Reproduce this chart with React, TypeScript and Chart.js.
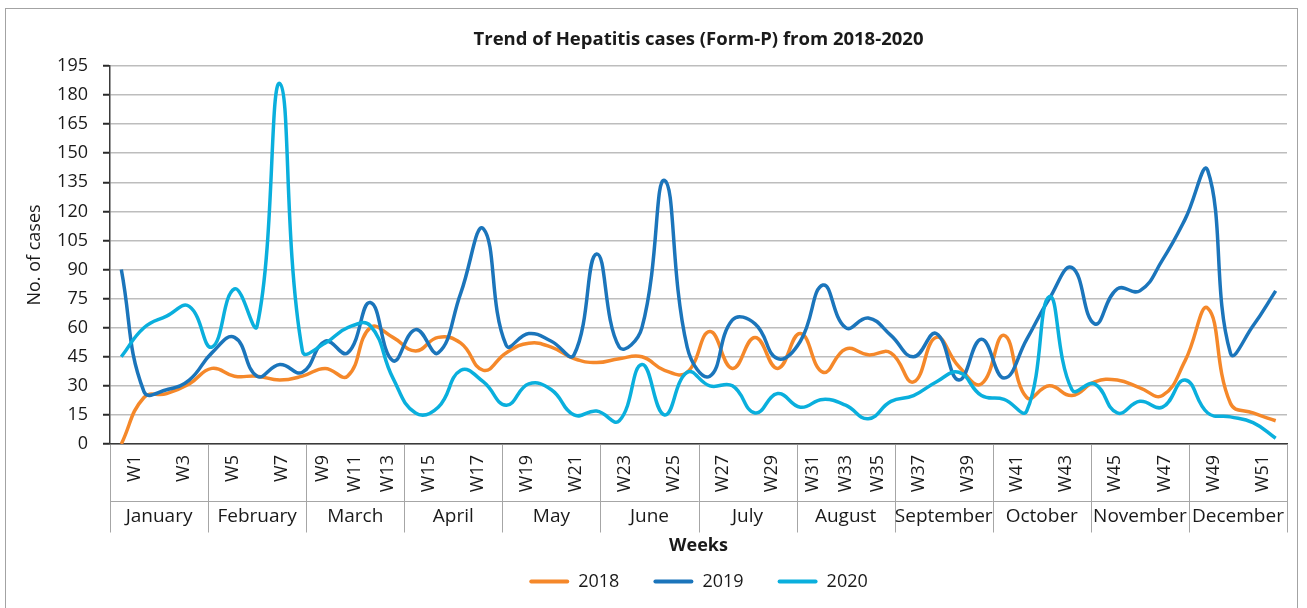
import React, { useEffect, useRef } from "react";
import { Chart, registerables } from "chart.js";

Chart.register(...registerables);

const weeks = [
  "W1", "W2", "W3", "W4", "W5", "W6", "W7", "W8", "W9", "W10", "W11", "W12", "W13",
  "W14", "W15", "W16", "W17", "W18", "W19", "W20", "W21", "W22", "W23", "W24", "W25", "W26",
  "W27", "W28", "W29", "W30", "W31", "W32", "W33", "W34", "W35", "W36", "W37", "W38", "W39",
  "W40", "W41", "W42", "W43", "W44", "W45", "W46", "W47", "W48", "W49", "W50", "W51", "W52",
];

const months = [
  "January", "February", "March", "April", "May", "June",
  "July", "August", "September", "October", "November", "December",
];

const monthWeekLabels = [
  ["W1", "W3"], ["W5", "W7"], ["W9", "W11", "W13"], ["W15", "W17"],
  ["W19", "W21"], ["W23", "W25"], ["W27", "W29"], ["W31", "W33", "W35"],
  ["W37", "W39"], ["W41", "W43"], ["W45", "W47"], ["W49", "W51"],
];

const cases2018 = [
  0, 24, 26, 31, 39, 35, 35, 33, 35, 39, 35, 60, 55,
  48, 55, 52, 38, 47, 52, 50, 44, 42, 44, 45, 38, 37,
  58, 39, 55, 39, 57, 37, 49, 46, 47, 32, 55, 40, 31,
  56, 24, 30, 25, 32, 33, 29, 25, 43, 70, 21, 16, 12,
];

const cases2019 = [
  90, 27, 28, 33, 47, 55, 35, 41, 37, 53, 47, 73, 43,
  59, 47, 78, 111, 51, 57, 53, 46, 98, 50, 60, 136, 50,
  35, 64, 62, 44, 53, 82, 60, 65, 56, 45, 57, 33, 54,
  34, 54, 75, 91, 62, 80, 79, 95, 116, 141, 47, 61, 79,
];

const cases2020 = [
  45, 60, 66, 71, 50, 80, 61, 186, 48, 52, 60, 61, 34,
  16, 19, 38, 32, 20, 31, 28, 15, 17, 12, 41, 15, 37,
  30, 30, 16, 26, 19, 23, 20, 13, 22, 25, 32, 37, 25,
  23, 17, 76, 28, 31, 16, 22, 19, 33, 16, 14, 11, 3,
];

const yTickValues = [0, 15, 30, 45, 60, 75, 90, 105, 120, 135, 150, 165, 180, 195];

const seriesNames = ["2018", "2019", "2020"];
const seriesColors = ["#F5882A", "#1B75BB", "#0AAFDD"];

const chartTitle = "Trend of Hepatitis cases (Form-P) from 2018-2020";
const yTitle = "No. of cases";
const xTitle = "Weeks";

const FONT = '"Open Sans", "Noto Sans", sans-serif';
const TEXT = "#1a1a1a";

const decorPlugin = {
  id: "decor",
  afterDraw(chart: any) {
    const ctx: CanvasRenderingContext2D = chart.ctx;
    const a = chart.chartArea;
    const W = chart.width;
    const H = chart.height;
    ctx.save();

    // outer frame
    ctx.strokeStyle = "#A3A3A3";
    ctx.lineWidth = 1;
    ctx.strokeRect(5.5, 8.5, W - 15, H + 10);

    // title
    const cx = (a.left + a.right) / 2;
    ctx.fillStyle = TEXT;
    ctx.font = `bold 18.5px ${FONT}`;
    ctx.textAlign = "center";
    ctx.textBaseline = "middle";
    ctx.fillText(chartTitle, cx, a.top - 26);

    // y title
    ctx.save();
    ctx.translate(35, (a.top + a.bottom) / 2);
    ctx.rotate(-Math.PI / 2);
    ctx.font = `18px ${FONT}`;
    ctx.fillText(yTitle, 0, 0);
    ctx.restore();

    // category boxes
    const mw = (a.right - a.left) / months.length;
    const weekRowBottom = a.bottom + 56.5;
    const monthRowBottom = a.bottom + 88.5;
    ctx.strokeStyle = "#A6A6A6";
    ctx.lineWidth = 1;
    for (let i = 0; i <= months.length; i++) {
      const x = Math.round(a.left + i * mw) + 0.5;
      ctx.beginPath();
      ctx.moveTo(x, a.bottom + 1);
      ctx.lineTo(x, monthRowBottom);
      ctx.stroke();
    }
    ctx.beginPath();
    ctx.moveTo(a.left, Math.round(weekRowBottom) + 0.5);
    ctx.lineTo(a.right, Math.round(weekRowBottom) + 0.5);
    ctx.stroke();

    // week labels
    ctx.fillStyle = TEXT;
    ctx.font = `18px ${FONT}`;
    monthWeekLabels.forEach((labels, m) => {
      const n = labels.length;
      labels.forEach((lab, j) => {
        const x = a.left + (m + (j + 0.5) / n) * mw;
        ctx.save();
        ctx.translate(x, a.bottom + 11);
        ctx.rotate(-Math.PI / 2);
        ctx.textAlign = "right";
        ctx.textBaseline = "middle";
        ctx.fillText(lab, 0, 0);
        ctx.restore();
      });
    });

    // month labels
    ctx.font = `19px ${FONT}`;
    ctx.textAlign = "center";
    ctx.textBaseline = "middle";
    months.forEach((mname, m) => {
      ctx.fillText(mname, a.left + (m + 0.5) * mw, (weekRowBottom + monthRowBottom) / 2);
    });

    // x title
    ctx.font = `bold 18px ${FONT}`;
    ctx.fillText(xTitle, cx, a.bottom + 102);

    // legend
    ctx.font = `18px ${FONT}`;
    const lineLen = 40;
    const gap = 9;
    const itemGap = 34;
    const widths = seriesNames.map((s) => lineLen + gap + ctx.measureText(s).width);
    const total = widths.reduce((p, c) => p + c, 0) + itemGap * (seriesNames.length - 1);
    let x = cx - total / 2;
    const ly = a.bottom + 137.5;
    seriesNames.forEach((s, i) => {
      ctx.strokeStyle = seriesColors[i];
      ctx.lineWidth = 4;
      ctx.lineCap = "round";
      ctx.beginPath();
      ctx.moveTo(x + 2, ly);
      ctx.lineTo(x + lineLen - 2, ly);
      ctx.stroke();
      ctx.fillStyle = TEXT;
      ctx.textAlign = "left";
      ctx.fillText(s, x + lineLen + gap, ly);
      x += widths[i] + itemGap;
    });

    ctx.restore();
  },
};

export default function App() {
  const ref = useRef<HTMLCanvasElement | null>(null);

  useEffect(() => {
    if (!ref.current) return;
    const seriesData = [cases2018, cases2019, cases2020];
    const chart = new Chart(ref.current, {
      type: "line",
      data: {
        labels: weeks,
        datasets: seriesNames.map((name, i) => ({
          label: name,
          data: seriesData[i],
          borderColor: seriesColors[i],
          backgroundColor: seriesColors[i],
          borderWidth: 3.5,
          pointRadius: 0,
          tension: 0.45,
          fill: false,
          order: seriesNames.length - 1 - i,
        })),
      },
      options: {
        responsive: false,
        animation: false,
        devicePixelRatio: 1,
        layout: { padding: { left: 0, right: 20, top: 66, bottom: 164 } },
        plugins: {
          legend: { display: false },
          title: { display: false },
          tooltip: { enabled: false },
        },
        scales: {
          x: {
            type: "category",
            offset: true,
            grid: { display: false, drawTicks: false },
            ticks: { display: false },
            border: { display: true, color: "#3A3A3A", width: 1.5 },
            afterFit: (s: any) => {
              s.height = 0;
            },
          },
          y: {
            min: 0,
            max: 195,
            afterBuildTicks: (s: any) => {
              s.ticks = yTickValues.map((v) => ({ value: v }));
            },
            ticks: {
              font: { family: FONT, size: 18 },
              color: TEXT,
              padding: 15,
            },
            grid: {
              color: "#BDBDBD",
              lineWidth: 1.5,
              drawTicks: true,
              tickLength: 7,
              tickColor: "#2A2A2A",
              tickWidth: 2,
            },
            border: { display: true, color: "#3A3A3A", width: 1.5 },
            afterFit: (s: any) => {
              s.width = 110;
            },
          },
        },
      },
      plugins: [decorPlugin],
    });
    return () => chart.destroy();
  }, []);

  return (
    <div style={{ position: "fixed", left: 0, top: 0, width: 1307, height: 608, background: "#fff" }}>
      <canvas ref={ref} width={1307} height={608} style={{ display: "block", width: 1307, height: 608 }} />
    </div>
  );
}
